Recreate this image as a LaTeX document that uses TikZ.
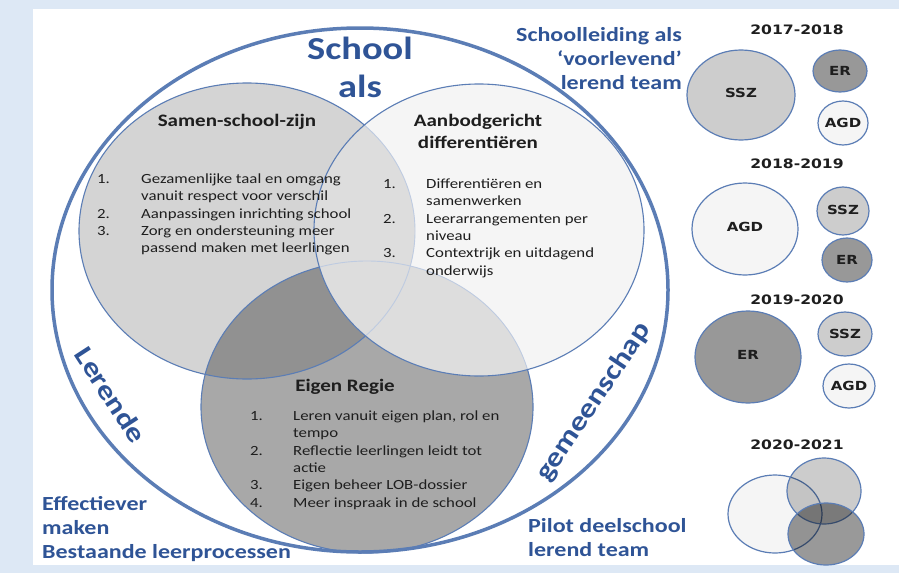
\documentclass[tikz,border=0pt]{standalone}
\usepackage{fontspec}
\setmainfont[FakeStretch=1.2]{Carlito}
\newfontfamily\yearfont[FakeStretch=1.2]{DejaVu Sans}
\definecolor{panelblue}{RGB}{221,232,245}
\definecolor{labelblue}{RGB}{47,84,150}
\definecolor{rimblue}{RGB}{91,125,181}
\definecolor{paleblue}{RGB}{190,203,225}
\definecolor{inkgray}{RGB}{30,30,30}
\definecolor{sszgray}{RGB}{212,212,212}
\definecolor{ergray}{RGB}{168,168,168}
\definecolor{sszergray}{RGB}{145,145,145}
\definecolor{agdgray}{RGB}{245,245,245}
\definecolor{agdovergray}{RGB}{221,221,221}
\definecolor{minissz}{RGB}{205,205,205}
\definecolor{minier}{RGB}{152,152,152}
\tikzset{
  rim/.style={draw=rimblue, line width=1.1pt},
  minirim/.style={draw=rimblue, line width=1.2pt},
  bluelabel/.style={text=labelblue, font=\fontsize{20}{24}\selectfont\bfseries, inner sep=0pt},
  circtitle/.style={text=inkgray, font=\fontsize{17.5}{22}\selectfont\bfseries, align=center, inner sep=0pt},
  listtext/.style={text=inkgray, font=\fontsize{14}{17.4}\selectfont, anchor=north west, inner sep=0pt},
  yeartitle/.style={text=inkgray, font=\yearfont\bfseries\fontsize{13}{15}\selectfont, inner sep=0pt},
  minilabel/.style={text=inkgray, font=\yearfont\bfseries\fontsize{12.5}{15}\selectfont, inner sep=0pt}
}
\begin{document}
\begin{tikzpicture}[x=1pt,y=-1pt]
% Background and panel
\fill[panelblue] (0,0) rectangle (899,573);
\fill[white] (33,9) rectangle (899,565);

% Drawing circle ER
\fill[ergray] (367,407) ellipse [x radius=166, y radius=146];
% Drawing circle SSZ
\fill[sszgray] (247,231) ellipse [x radius=168, y radius=148];
\begin{scope}
  \clip (247,231) ellipse [x radius=168, y radius=148];
  \fill[sszergray] (367,407) ellipse [x radius=166, y radius=146];
\end{scope}
\draw[rim] (367,407) ellipse [x radius=166, y radius=146];
\draw[rim] (247,231) ellipse [x radius=168, y radius=148];

% Drawing circle AGD
\fill[agdgray] (479,230) ellipse [x radius=165, y radius=146];
\begin{scope}
  \clip (479,230) ellipse [x radius=165, y radius=146];
  \fill[agdovergray] (247,231) ellipse [x radius=168, y radius=148] (367,407) ellipse [x radius=166, y radius=146];
  \draw[paleblue, line width=0.9pt] (247,231) ellipse [x radius=168, y radius=148];
  \draw[paleblue, line width=0.9pt] (367,407) ellipse [x radius=166, y radius=146];
\end{scope}
\draw[rim] (479,230) ellipse [x radius=165, y radius=146];

% Drawing outer ellipse
\draw[rimblue, line width=3.5pt] (360,290) ellipse [x radius=308, y radius=262];

% Marking big labels
\node[bluelabel, font=\fontsize{32}{38}\selectfont\bfseries, align=center, anchor=north] (schoolals) at (360,37) {School\\als};
\node[bluelabel, align=right, anchor=north east] (leiding) at (682,27) {Schoolleiding als\\‘voorlevend’\\lerend team};
\node[bluelabel, font=\fontsize{27}{30}\selectfont\bfseries, rotate=-57] (lerende) at (111,395) {Lerende};
\node[bluelabel, font=\fontsize{27}{30}\selectfont\bfseries, rotate=56] (gemeenschap) at (594,402) {gemeenschap};
\node[bluelabel, align=left, anchor=north west] (effectiever) at (42,496) {Effectiever\\maken\\Bestaande leerprocessen};
\node[bluelabel, align=left, anchor=north west] (pilot) at (528,518) {Pilot deelschool\\lerend team};

% Marking circle SSZ texts
\node[circtitle] (ssztitle) at (237,122) {Samen-school-zijn};
\node[listtext] (sszlist) at (97,171) {\begin{tabular}{@{}p{44pt}@{}l@{}}
1. & Gezamenlijke taal en omgang\\
   & vanuit respect voor verschil\\
2. & Aanpassingen inrichting school\\
3. & Zorg en ondersteuning meer\\
   & passend maken met leerlingen
\end{tabular}};

% Marking circle AGD texts
\node[circtitle] (agdtitle) at (478,131) {Aanbodgericht\\differentiëren};
\node[listtext] (agdlist) at (383,176) {\begin{tabular}{@{}p{43pt}@{}l@{}}
1. & Differentiëren en\\
   & samenwerken\\
2. & Leerarrangementen per\\
   & niveau\\
3. & Contextrijk en uitdagend\\
   & onderwijs
\end{tabular}};

% Marking circle ER texts
\node[circtitle] (ertitle) at (345,387) {Eigen Regie};
\node[listtext] (erlist) at (250,408) {\begin{tabular}{@{}p{43pt}@{}l@{}}
1. & Leren vanuit eigen plan, rol en\\
   & tempo\\
2. & Reflectie leerlingen leidt tot\\
   & actie\\
3. & Eigen beheer LOB-dossier\\
4. & Meer inspraak  in de school
\end{tabular}};

% Drawing year 2017-2018
\node[yeartitle] (yearA) at (797,30) {2017-2018};
\draw[minirim, fill=minissz] (741,95) ellipse [x radius=54, y radius=45];
\draw[minirim, fill=minier] (840,71) ellipse [x radius=27, y radius=21];
\draw[minirim, fill=agdgray] (843,123) ellipse [x radius=25, y radius=22];
\node[minilabel] (sszA) at (741,93) {SSZ};
\node[minilabel] (erA) at (840,71) {ER};
\node[minilabel] (agdA) at (843,123) {AGD};

% Drawing year 2018-2019
\node[yeartitle] (yearB) at (797,164) {2018-2019};
\draw[minirim, fill=agdgray] (745,229) ellipse [x radius=53, y radius=46];
\draw[minirim, fill=minissz] (843,211) ellipse [x radius=26, y radius=24];
\draw[minirim, fill=minier] (847,260) ellipse [x radius=25, y radius=22];
\node[minilabel] (agdB) at (745,227) {AGD};
\node[minilabel] (sszB) at (843,210) {SSZ};
\node[minilabel] (erB) at (847,260) {ER};

% Drawing year 2019-2020
\node[yeartitle] (yearC) at (797,300) {2019-2020};
\draw[minirim, fill=minier] (748,357) ellipse [x radius=53, y radius=46];
\draw[minirim, fill=minissz] (845,334) ellipse [x radius=27, y radius=22];
\draw[minirim, fill=agdgray] (849,386) ellipse [x radius=26, y radius=22];
\node[minilabel] (erC) at (748,355) {ER};
\node[minilabel] (sszC) at (845,334) {SSZ};
\node[minilabel] (agdC) at (849,386) {AGD};

% Drawing year 2020-2021
\node[yeartitle] (yearD) at (797,445) {2020-2021};
\draw[minirim, fill=agdgray] (775,514) ellipse [x radius=47, y radius=39];
\draw[minirim, fill=black, fill opacity=0.2] (824,491) ellipse [x radius=37, y radius=33];
\draw[minirim, fill=black, fill opacity=0.4] (826,534) ellipse [x radius=38, y radius=31];
\end{tikzpicture}
\end{document}
